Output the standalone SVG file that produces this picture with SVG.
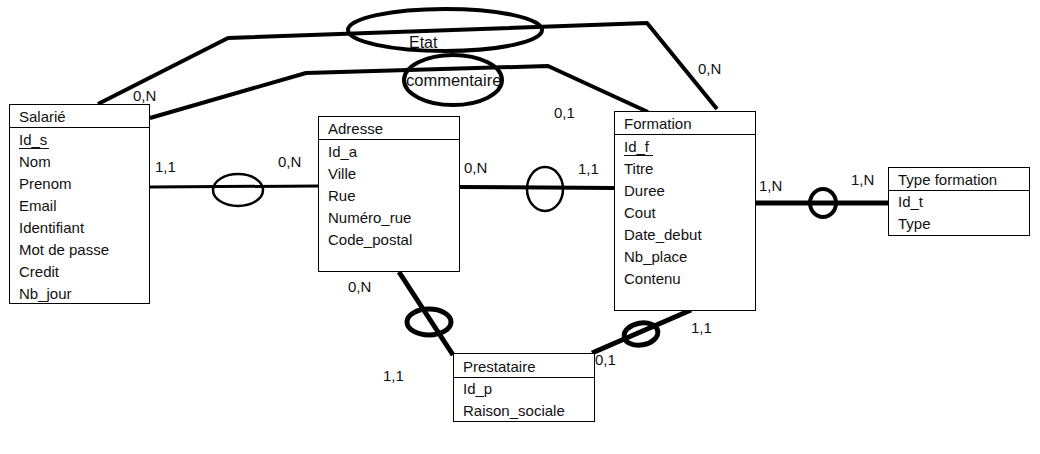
<svg xmlns="http://www.w3.org/2000/svg" width="1040" height="454" viewBox="0 0 1040 454">
<style>
text{font-family:"Liberation Sans",Arial,sans-serif;font-size:15px;fill:#111}
.box{fill:#fff;stroke:#000;stroke-width:1}
.sep{stroke:#000;stroke-width:1}
.ul{stroke:#111;stroke-width:1}
.c{fill:none;stroke:#000;stroke-linejoin:round;stroke-linecap:butt}
.as{fill:none;stroke:#000}
</style>
<rect width="1040" height="454" fill="#fff"/>
<g id="connectors">
<polyline class="c" stroke-width="4" points="98,104 228,38 647,23 717,109"/>
<polyline class="c" stroke-width="4" points="150,118 306,73 548,66 648,112"/>
<line class="c" stroke-width="3" x1="150" y1="187" x2="318" y2="186"/>
<line class="c" stroke-width="4" x1="459" y1="187" x2="614" y2="188"/>
<line class="c" stroke-width="5" x1="753" y1="203" x2="888" y2="203"/>
<line class="c" stroke-width="5" x1="399" y1="272" x2="453" y2="355"/>
<line class="c" stroke-width="5" x1="592" y1="353" x2="691" y2="310"/>
</g>
<g id="assoc-etat">
<ellipse class="as" stroke-width="4" cx="445" cy="30" rx="97" ry="21"/>
<text x="409" y="48" style="font-size:16px">Etat</text>
</g>
<g id="assoc-commentaire">
<ellipse class="as" stroke-width="4" cx="453" cy="80" rx="49" ry="25"/>
<text x="406" y="86" style="font-size:16.5px">commentaire</text>
</g>
<g id="assoc-salarie-adresse">
<ellipse class="as" stroke-width="2.5" cx="238" cy="190" rx="25" ry="16"/>
</g>
<g id="assoc-adresse-formation">
<ellipse class="as" stroke-width="2.5" cx="545" cy="189" rx="18" ry="22"/>
</g>
<g id="assoc-formation-type">
<ellipse class="as" stroke-width="4" cx="823" cy="203" rx="13" ry="14"/>
</g>
<g id="assoc-adresse-prestataire">
<ellipse class="as" stroke-width="5" cx="429" cy="322" rx="22" ry="13"/>
</g>
<g id="assoc-prestataire-formation">
<ellipse class="as" stroke-width="5" cx="641" cy="334" rx="17" ry="11" transform="rotate(-10 641 334)"/>
</g>
<g id="labels">
<text x="133" y="101">0,N</text>
<text x="698" y="74">0,N</text>
<text x="554" y="118">0,1</text>
<text x="155" y="172">1,1</text>
<text x="278" y="167">0,N</text>
<text x="464" y="173">0,N</text>
<text x="578" y="174">1,1</text>
<text x="759" y="191">1,N</text>
<text x="851" y="185">1,N</text>
<text x="348" y="292">0,N</text>
<text x="383" y="381">1,1</text>
<text x="595" y="365">0,1</text>
<text x="691" y="333">1,1</text>
</g>
<g id="salarie">
<rect class="box" x="9.5" y="104.5" width="140" height="199"/>
<line class="sep" x1="9.5" y1="127.5" x2="149.5" y2="127.5"/>
<text x="19" y="122">Salarié</text>
<text x="19" y="145">Id_s</text>
<line class="ul" x1="19" y1="148.5" x2="49" y2="148.5"/>
<text x="19" y="167">Nom</text>
<text x="19" y="189">Prenom</text>
<text x="19" y="211">Email</text>
<text x="19" y="233">Identifiant</text>
<text x="19" y="255">Mot de passe</text>
<text x="19" y="277">Credit</text>
<text x="19" y="299">Nb_jour</text>
</g>
<g id="adresse">
<rect class="box" x="318.5" y="116.5" width="141" height="155"/>
<line class="sep" x1="318.5" y1="139.5" x2="459.5" y2="139.5"/>
<text x="328" y="134">Adresse</text>
<text x="328" y="157">Id_a</text>
<text x="328" y="179">Ville</text>
<text x="328" y="201">Rue</text>
<text x="328" y="223">Numéro_rue</text>
<text x="328" y="245">Code_postal</text>
</g>
<g id="formation">
<rect class="box" x="614.5" y="111.5" width="141" height="199"/>
<line class="sep" x1="614.5" y1="134.5" x2="755.5" y2="134.5"/>
<text x="624" y="129">Formation</text>
<text x="624" y="152">Id_f</text>
<line class="ul" x1="624" y1="155.5" x2="653" y2="155.5"/>
<text x="624" y="174">Titre</text>
<text x="624" y="196">Duree</text>
<text x="624" y="218">Cout</text>
<text x="624" y="240">Date_debut</text>
<text x="624" y="262">Nb_place</text>
<text x="624" y="284">Contenu</text>
</g>
<g id="type-formation">
<rect class="box" x="888.5" y="167.5" width="141" height="68"/>
<line class="sep" x1="888.5" y1="190.5" x2="1029.5" y2="190.5"/>
<text x="898" y="185">Type formation</text>
<text x="898" y="207">Id_t</text>
<text x="898" y="229">Type</text>
</g>
<g id="prestataire">
<rect class="box" x="453.5" y="353.5" width="141" height="68"/>
<line class="sep" x1="453.5" y1="377.5" x2="594.5" y2="377.5"/>
<text x="463" y="372">Prestataire</text>
<text x="463" y="394">Id_p</text>
<text x="463" y="416">Raison_sociale</text>
</g>
</svg>
